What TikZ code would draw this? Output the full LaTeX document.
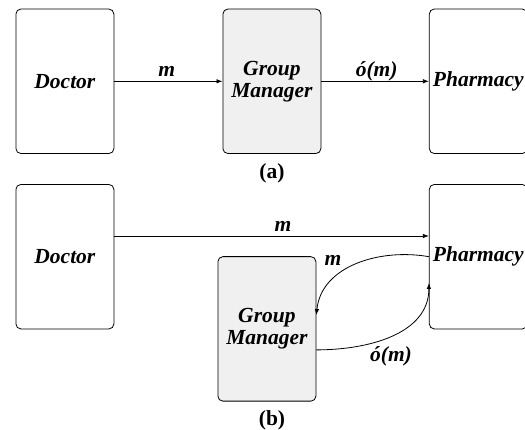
\documentclass[tikz,border=0pt]{standalone}
\usepackage{fontspec}
\setmainfont{Liberation Serif}
\usetikzlibrary{arrows.meta}
\tikzset{
  party/.style={draw, line width=0.8pt, rounded corners=5pt, minimum width=98pt, minimum height=144.5pt, inner sep=0pt, align=center, font=\fontsize{21.5}{22}\selectfont\bfseries\itshape},
  manager/.style={party, fill=black!6},
  msg/.style={-{Latex[length=6pt,width=4.5pt]}, line width=0.8pt},
  msglabel/.style={font=\fontsize{21.5}{22}\selectfont\bfseries\itshape, inner sep=0pt},
  caption/.style={font=\fontsize{21.5}{22}\selectfont\bfseries, inner sep=0pt}
}
\begin{document}
\begin{tikzpicture}[x=1pt,y=1pt]
			%%%%% FRAME %%%%%
			\useasboundingbox (0,0) rectangle (525,430);
			\clip (0,0) rectangle (525,430);
			
			%%%%% (a) %%%%%
			\node[party] (doctorA) at (64.9, 348.7) {Doctor};
			\node[manager] (managerA) at (271.9, 348.7) {Group\\Manager};
			\node[party] (pharmacyA) at (478.3, 348.7) {Pharmacy};
			
			\draw[msg] (doctorA.east) -- (managerA.west);
			\draw[msg] (managerA.east) -- (pharmacyA.west);
			\node[msglabel] (mA) at (166.7, 358.3) {m};
			\node[msglabel] (omA) at (376.7, 358.3) {ó(m)};
			
			\node[caption] (capA) at (272, 257) {(a)};
			
			%%%%% (b) %%%%%
			\node[party] (doctorB) at (64.9, 173.3) {Doctor};
			\node[party] (pharmacyB) at (478.3, 173.3) {Pharmacy};
			\node[manager] (managerB) at (266.9, 101.1) {Group\\Manager};
			
			\draw[msg] ([yshift=20.7pt]doctorB.east) -- ([yshift=20.7pt]pharmacyB.west);
			\draw[msg] (pharmacyB.west) to[out=170, in=84] ([yshift=13.9pt]managerB.east);
			\draw[msg] ([yshift=-21pt]managerB.east) to[out=0, in=-90] ([yshift=-26.3pt]pharmacyB.west);
			\node[msglabel] (mB) at (283, 203.3) {m};
			\node[msglabel] (mB2) at (333, 169.3) {m};
			\node[msglabel] (omB) at (391, 73.3) {ó(m)};
			
			\node[caption] (capB) at (272, 10) {(b)};
			%%%%% END %%%%%
		\end{tikzpicture}
\end{document}
